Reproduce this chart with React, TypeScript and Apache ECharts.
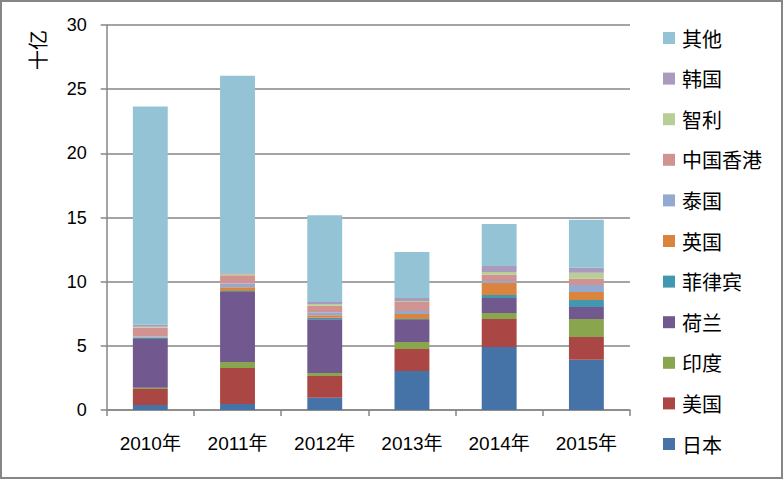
import React, { useEffect, useRef } from "react";
import * as echarts from "echarts";

const categories = ["2010年", "2011年", "2012年", "2013年", "2014年", "2015年"];
const yTicks = { min: 0, max: 30, interval: 5 };

const japan = [0.39, 0.47, 0.96, 3.04, 4.91, 3.92];
const usa = [1.25, 2.8, 1.69, 1.71, 2.18, 1.77];
const india = [0.1, 0.47, 0.23, 0.55, 0.47, 1.4];
const netherlands = [3.8, 5.45, 4.2, 1.71, 1.17, 0.94];
const philippines = [0.1, 0.08, 0.1, 0.08, 0.23, 0.55];
const uk = [0.03, 0.3, 0.2, 0.39, 0.94, 0.62];
const thailand = [0.05, 0.28, 0.23, 0.23, 0.16, 0.55];
const hongkong = [0.68, 0.65, 0.52, 0.7, 0.47, 0.47];
const chile = [0.08, 0.1, 0.13, 0.08, 0.23, 0.47];
const korea = [0.16, 0.05, 0.16, 0.23, 0.47, 0.39];
const other = [17.0, 15.4, 6.76, 3.59, 3.27, 3.74];

const seriesNames = ["日本", "美国", "印度", "荷兰", "菲律宾", "英国", "泰国", "中国香港", "智利", "韩国", "其他"];
const seriesData = [japan, usa, india, netherlands, philippines, uk, thailand, hongkong, chile, korea, other];
const seriesColors = ["#4572A7", "#AA4643", "#89A54E", "#71588F", "#4198AF", "#DB843D", "#93A9CF", "#D19392", "#B9CD96", "#A99BBD", "#93C3D5"];

export default function App() {
  const ref = useRef<HTMLDivElement>(null);
  useEffect(() => {
    if (!ref.current) return;
    const chart = echarts.init(ref.current, null, { renderer: "svg" });
    const axisColor = "#868686";
    chart.setOption({
      animation: false,
      backgroundColor: "#fff",
      grid: { left: 106.7, right: 153, top: 25, bottom: 70, containLabel: false },
      legend: {
        orient: "vertical",
        left: 658,
        top: 23,
        itemWidth: 12,
        itemHeight: 12,
        itemGap: 20.6,
        icon: "rect",
        data: seriesNames.slice().reverse(),
        textStyle: {
          fontFamily: "Noto Sans CJK SC",
          fontSize: 20,
          lineHeight: 20,
          color: "#000",
          padding: [0, 0, 0, 2],
        },
      },
      xAxis: {
        type: "category",
        data: categories,
        axisLine: { lineStyle: { color: axisColor, width: 1.5 } },
        axisTick: { show: true, length: 6, lineStyle: { color: axisColor, width: 1.5 } },
        axisLabel: {
          margin: 24,
          fontSize: 19,
          fontFamily: "Liberation Sans, Noto Sans CJK SC",
          color: "#000",
        },
      },
      yAxis: {
        type: "value",
        min: yTicks.min,
        max: yTicks.max,
        interval: yTicks.interval,
        axisLine: { show: true, lineStyle: { color: axisColor, width: 1.5 } },
        axisTick: { show: true, length: 6, lineStyle: { color: axisColor, width: 1.5 } },
        splitLine: { show: true, lineStyle: { color: axisColor, width: 1.5 } },
        axisLabel: {
          margin: 20,
          fontSize: 18,
          fontFamily: "Liberation Sans",
          color: "#000",
        },
      },
      graphic: [
        {
          type: "rect",
          shape: { x: 1, y: 1, width: 781, height: 477 },
          style: { fill: "none", stroke: axisColor, lineWidth: 2 },
          silent: true,
        },
        {
          type: "text",
          x: 37,
          y: 50,
          rotation: Math.PI / 2,
          style: {
            text: "十亿",
            fontSize: 20,
            fontFamily: "Noto Sans CJK SC",
            fill: "#000",
            align: "center",
            verticalAlign: "middle",
          },
        },
      ],
      series: seriesNames.map((name, i) => ({
        name,
        type: "bar",
        stack: "total",
        barWidth: "40%",
        data: seriesData[i],
        itemStyle: { color: seriesColors[i] },
      })),
    });
    return () => chart.dispose();
  }, []);
  return (
    <div
      ref={ref}
      style={{ position: "absolute", left: 0, top: 0, width: 783, height: 480 }}
    />
  );
}
